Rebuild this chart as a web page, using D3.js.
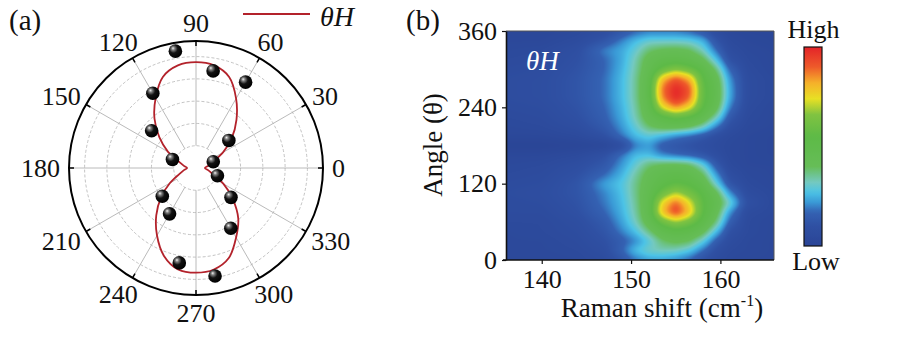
<!DOCTYPE html>
<html><head><meta charset="utf-8">
<script src="https://cdn.jsdelivr.net/npm/d3@7/dist/d3.min.js"></script>
<style>
body{margin:0;background:#fff;}
svg text{font-family:"Liberation Serif","Tinos","Times New Roman","Nimbus Roman","DejaVu Serif",serif !important;fill:#111;}
</style></head><body>
<svg id="fig" width="899" height="340"></svg>
<script>
// ---------- (a) polar plot data ----------
const polarTickAngles = [0, 30, 60, 90, 120, 150, 180, 210, 240, 270, 300, 330];
const ringLevels = [0.2, 0.4, 0.6, 0.8, 1.0];
// measured intensities (normalised)
const pointAngles = [20, 40, 60, 80, 100, 120, 140, 160, 220, 240, 260, 280, 300, 320, 340];
const pointValues = [0.165, 0.385, 0.89, 0.885, 1.065, 0.775, 0.52, 0.225, 0.395, 0.475, 0.865, 0.985, 0.625, 0.41, 0.205];
// fitted curve, sampled every 10 degrees
const fitAngles = [0,10,20,30,40,50,60,70,80,90,100,110,120,130,140,150,160,170,
                   180,190,200,210,220,230,240,250,260,270,280,290,300,310,320,330,340,350];
const fitValues = [0.08,0.11,0.16,0.28,0.42,0.565,0.72,0.87,0.935,0.95,0.935,0.87,0.725,0.58,0.43,0.29,0.16,0.11,
                   0.08,0.11,0.16,0.27,0.41,0.555,0.70,0.84,0.925,0.94,0.925,0.86,0.72,0.59,0.43,0.285,0.16,0.11];

// ---------- (b) Raman map data ----------
const shiftTicks = [140, 150, 160];
const angleTicks = [0, 120, 240, 360];
const mapShifts = [136, 140, 144, 147, 149, 150.5, 152, 153.5, 155, 156.5, 158, 159.5, 161, 163, 166];
const mapAngles = [0, 15, 30, 45, 60, 75, 90, 105, 120, 135, 150, 165, 180, 195, 210, 225, 240, 255, 270, 285, 300, 315, 330, 345, 360];
const mapIntensity = [
  [0.03,0.03,0.04,0.06,0.12,0.18,0.22,0.22,0.20,0.16,0.10,0.06,0.04,0.03,0.03],
  [0.04,0.04,0.05,0.08,0.17,0.27,0.32,0.33,0.32,0.28,0.18,0.09,0.05,0.04,0.03],
  [0.04,0.04,0.06,0.10,0.15,0.20,0.28,0.38,0.42,0.40,0.30,0.15,0.07,0.04,0.03],
  [0.04,0.05,0.07,0.12,0.20,0.27,0.37,0.48,0.52,0.50,0.43,0.27,0.10,0.05,0.03],
  [0.05,0.05,0.08,0.14,0.23,0.32,0.45,0.60,0.68,0.62,0.52,0.38,0.16,0.05,0.03],
  [0.06,0.06,0.10,0.17,0.25,0.34,0.48,0.80,0.95,0.80,0.56,0.44,0.22,0.06,0.04],
  [0.06,0.07,0.11,0.19,0.26,0.35,0.48,0.76,0.90,0.75,0.56,0.47,0.32,0.10,0.04],
  [0.07,0.08,0.12,0.20,0.27,0.36,0.47,0.60,0.70,0.62,0.54,0.43,0.22,0.07,0.04],
  [0.06,0.07,0.12,0.23,0.28,0.36,0.45,0.52,0.56,0.54,0.48,0.30,0.12,0.05,0.03],
  [0.05,0.06,0.10,0.17,0.25,0.34,0.43,0.48,0.50,0.48,0.40,0.22,0.08,0.04,0.03],
  [0.04,0.05,0.08,0.13,0.22,0.30,0.38,0.41,0.42,0.40,0.30,0.14,0.05,0.03,0.03],
  [0.03,0.03,0.05,0.10,0.19,0.26,0.26,0.20,0.17,0.15,0.12,0.08,0.04,0.03,0.02],
  [0.00,0.00,0.01,0.02,0.07,0.19,0.22,0.14,0.12,0.10,0.08,0.06,0.04,0.03,0.02],
  [0.03,0.03,0.05,0.10,0.19,0.26,0.29,0.25,0.20,0.17,0.13,0.08,0.05,0.03,0.02],
  [0.04,0.05,0.08,0.14,0.22,0.30,0.39,0.44,0.45,0.42,0.34,0.20,0.09,0.04,0.03],
  [0.05,0.06,0.10,0.16,0.24,0.33,0.45,0.53,0.58,0.55,0.48,0.34,0.14,0.05,0.03],
  [0.06,0.07,0.11,0.17,0.25,0.34,0.48,0.74,0.86,0.76,0.56,0.44,0.20,0.06,0.03],
  [0.07,0.08,0.12,0.18,0.26,0.35,0.50,0.86,1.00,0.90,0.58,0.47,0.24,0.07,0.04],
  [0.07,0.08,0.12,0.18,0.26,0.35,0.50,0.88,1.00,0.92,0.58,0.47,0.24,0.07,0.04],
  [0.07,0.08,0.12,0.18,0.26,0.35,0.49,0.80,0.92,0.82,0.56,0.45,0.22,0.07,0.04],
  [0.06,0.07,0.11,0.17,0.25,0.34,0.46,0.58,0.65,0.60,0.52,0.38,0.17,0.06,0.03],
  [0.05,0.06,0.10,0.17,0.24,0.33,0.44,0.49,0.50,0.48,0.42,0.27,0.10,0.05,0.03],
  [0.04,0.05,0.09,0.20,0.24,0.30,0.38,0.41,0.42,0.40,0.32,0.18,0.07,0.04,0.03],
  [0.03,0.03,0.06,0.12,0.20,0.26,0.30,0.30,0.30,0.29,0.25,0.12,0.05,0.03,0.02],
  [0.02,0.02,0.04,0.07,0.12,0.16,0.18,0.18,0.18,0.16,0.12,0.06,0.03,0.02,0.02]
];
// colour map stops
const cmapStops  = [0.00, 0.10, 0.17, 0.22, 0.27, 0.32, 0.40, 0.55, 0.66, 0.74, 0.82, 0.90, 1.00];
const cmapColors = ["#2a4596","#2f50a3","#3461b2","#3a9ad6","#4cc3e6","#74c9c0","#66bd57","#5dba47","#80c341","#e8e024","#f5b02a","#ee5a2a","#e42329"];

const svg = d3.select("#fig");
const defs = svg.append("defs");
const SERIF = '"Liberation Serif","Tinos","Times New Roman","Nimbus Roman","DejaVu Serif",serif';

// ================= (a) polar =================
const cx = 196, cy = 168, R = 127;
const rScale = d3.scaleLinear().domain([0, 1.14]).range([0, R]);
const toRad = a => a * Math.PI / 180;
const px = (a, v) => cx + rScale(v) * Math.cos(toRad(a));
const py = (a, v) => cy - rScale(v) * Math.sin(toRad(a));

const gp = svg.append("g");
// dashed rings
gp.selectAll("circle.ring").data(ringLevels).join("circle")
  .attr("cx", cx).attr("cy", cy).attr("r", d => rScale(d))
  .attr("fill", "none").attr("stroke", "#b4b4b4").attr("stroke-width", 0.8)
  .attr("stroke-dasharray", "3,2");
// spokes
gp.selectAll("line.spoke").data(polarTickAngles).join("line")
  .attr("x1", a => px(a, ringLevels[0])).attr("y1", a => py(a, ringLevels[0]))
  .attr("x2", a => px(a, rScale.domain()[1])).attr("y2", a => py(a, rScale.domain()[1]))
  .attr("stroke", "#a8a8a8").attr("stroke-width", 0.8);
// outer circle
gp.append("circle").attr("cx", cx).attr("cy", cy).attr("r", R)
  .attr("fill", "none").attr("stroke", "#000").attr("stroke-width", 2);
// ticks pointing inward
gp.selectAll("line.tick").data(polarTickAngles).join("line")
  .attr("x1", a => cx + R * Math.cos(toRad(a))).attr("y1", a => cy - R * Math.sin(toRad(a)))
  .attr("x2", a => cx + (R - 5) * Math.cos(toRad(a))).attr("y2", a => cy - (R - 5) * Math.sin(toRad(a)))
  .attr("stroke", "#000").attr("stroke-width", 1.5);
// angle labels
gp.selectAll("text.alab").data(polarTickAngles).join("text")
  .attr("font-size", 26).attr("text-anchor", "middle").style("font-family", SERIF)
  .text(d => d)
  .each(function (a) {
    const w = this.getComputedTextLength(), h = 18;
    const c = Math.cos(toRad(a)), s = Math.sin(toRad(a));
    const L = R + 9;
    const x = cx + L * c + c * w / 2;
    const y = cy - L * s - s * h / 2;
    d3.select(this).attr("x", x).attr("y", y + h / 2);
  });

// fitted curve
const radial = d3.lineRadial()
  .angle(d => toRad(90 - d[0]))
  .radius(d => rScale(d[1]))
  .curve(d3.curveCatmullRomClosed.alpha(0.5));
gp.append("path")
  .attr("transform", `translate(${cx},${cy})`)
  .attr("d", radial(fitAngles.map((a, i) => [a, fitValues[i]])))
  .attr("fill", "none").attr("stroke", "#b3222b").attr("stroke-width", 1.8);

// sphere markers
const grad = defs.append("radialGradient").attr("id", "ball")
  .attr("cx", "40%").attr("cy", "38%").attr("r", "62%").attr("fx", "32%").attr("fy", "28%");
grad.append("stop").attr("offset", "0%").attr("stop-color", "#f4f4f4");
grad.append("stop").attr("offset", "20%").attr("stop-color", "#808080");
grad.append("stop").attr("offset", "50%").attr("stop-color", "#121212");
grad.append("stop").attr("offset", "100%").attr("stop-color", "#000");
gp.selectAll("circle.pt").data(pointAngles).join("circle")
  .attr("cx", (a, i) => px(a, pointValues[i])).attr("cy", (a, i) => py(a, pointValues[i]))
  .attr("r", 6.8).attr("fill", "url(#ball)");

// legend
gp.append("line").attr("x1", 243).attr("x2", 310).attr("y1", 14).attr("y2", 14)
  .attr("stroke", "#b3222b").attr("stroke-width", 2);
gp.append("text").attr("x", 320).attr("y", 26).attr("font-size", 28).attr("font-style", "italic")
  .style("font-family", SERIF).text("θH");
svg.append("text").attr("x", 9).attr("y", 30).attr("font-size", 29).style("font-family", SERIF).text("(a)");

// ================= (b) Raman map =================
const x0 = 506, x1 = 774, y0 = 31, y1 = 260;
const x = d3.scaleLinear().domain([136, 166]).range([x0, x1]);
const y = d3.scaleLinear().domain([0, 360]).range([y1, y0]);
const color = d3.scaleLinear().domain(cmapStops).range(cmapColors).interpolate(d3.interpolateRgb).clamp(true);

const W = x1 - x0, H = y1 - y0;
function sample(s, a) {
  let j = d3.bisectRight(mapShifts, s) - 1; j = Math.max(0, Math.min(mapShifts.length - 2, j));
  let i = d3.bisectRight(mapAngles, a) - 1; i = Math.max(0, Math.min(mapAngles.length - 2, i));
  const ts = Math.max(0, Math.min(1, (s - mapShifts[j]) / (mapShifts[j + 1] - mapShifts[j])));
  const ta = Math.max(0, Math.min(1, (a - mapAngles[i]) / (mapAngles[i + 1] - mapAngles[i])));
  const v00 = mapIntensity[i][j], v01 = mapIntensity[i][j + 1];
  const v10 = mapIntensity[i + 1][j], v11 = mapIntensity[i + 1][j + 1];
  return (v00 * (1 - ts) + v01 * ts) * (1 - ta) + (v10 * (1 - ts) + v11 * ts) * ta;
}
let field = new Float32Array(W * H);
for (let r = 0; r < H; r++) for (let c = 0; c < W; c++)
  field[r * W + c] = sample(x.invert(x0 + c + 0.5), y.invert(y0 + r + 0.5));
// soften the interpolated field (separable box blur, clamped edges)
function boxBlur(src, rad) {
  const tmp = new Float32Array(W * H), out = new Float32Array(W * H);
  for (let r = 0; r < H; r++) for (let c = 0; c < W; c++) {
    let s = 0; for (let k = -rad; k <= rad; k++) s += src[r * W + Math.max(0, Math.min(W - 1, c + k))];
    tmp[r * W + c] = s / (2 * rad + 1);
  }
  for (let r = 0; r < H; r++) for (let c = 0; c < W; c++) {
    let s = 0; for (let k = -rad; k <= rad; k++) s += tmp[Math.max(0, Math.min(H - 1, r + k)) * W + c];
    out[r * W + c] = s / (2 * rad + 1);
  }
  return out;
}
field = boxBlur(boxBlur(field, 3), 3);
const canvas = document.createElement("canvas");
canvas.width = W; canvas.height = H;
const ctx = canvas.getContext("2d");
const img = ctx.createImageData(W, H);
for (let k = 0; k < W * H; k++) {
  const col = d3.rgb(color(field[k]));
  img.data[4 * k] = col.r; img.data[4 * k + 1] = col.g; img.data[4 * k + 2] = col.b; img.data[4 * k + 3] = 255;
}
ctx.putImageData(img, 0, 0);
const gm = svg.append("g");
gm.append("image").attr("x", x0).attr("y", y0).attr("width", W).attr("height", H)
  .attr("preserveAspectRatio", "none").attr("href", canvas.toDataURL());

// frame (top/right)
gm.append("path").attr("d", `M${x0},${y0}H${x1}V${y1}`).attr("fill", "none")
  .attr("stroke", "#555").attr("stroke-width", 1);
// axes
const ax = gm.append("g").attr("transform", `translate(0,${y1})`)
  .call(d3.axisBottom(x).tickValues(shiftTicks).tickSize(4).tickSizeOuter(0).tickPadding(6));
const ay = gm.append("g").attr("transform", `translate(${x0},0)`)
  .call(d3.axisLeft(y).tickValues(angleTicks).tickSize(4).tickSizeOuter(0).tickPadding(5));
[ax, ay].forEach(g => {
  g.attr("font-family", null);
  g.select(".domain").attr("stroke", "#111").attr("stroke-width", 1.6);
  g.selectAll(".tick line").attr("stroke", "#111").attr("stroke-width", 1.2);
  g.selectAll(".tick text").attr("font-size", 26).style("font-family", SERIF).attr("fill", "#111");
});
ax.select(".domain").attr("d", `M${x0 - 3},0H${x1}`);

// titles
const xt = svg.append("text").attr("x", 662).attr("y", 317).attr("font-size", 27)
  .attr("text-anchor", "middle").style("font-family", SERIF);
xt.append("tspan").text("Raman shift (cm");
xt.append("tspan").attr("font-size", 16).attr("dy", -11).text("-1");
xt.append("tspan").attr("dy", 11).text(")");
svg.append("text").attr("transform", "translate(442,145) rotate(-90)").style("font-family", SERIF)
  .attr("font-size", 27).attr("text-anchor", "middle").text("Angle (θ)");
svg.append("text").attr("x", 526).attr("y", 70).attr("font-size", 27).attr("font-style", "italic")
  .style("font-family", SERIF).style("fill", "#fff").text("θH");
svg.append("text").attr("x", 406).attr("y", 30).attr("font-size", 29).style("font-family", SERIF).text("(b)");

// colour bar
const cb = { x: 804, y: 47, w: 18, h: 199 };
const lg = defs.append("linearGradient").attr("id", "cbar").attr("x1", 0).attr("y1", 1).attr("x2", 0).attr("y2", 0);
d3.range(0, 1.0001, 0.02).forEach(t => lg.append("stop").attr("offset", t).attr("stop-color", color(t)));
svg.append("rect").attr("x", cb.x).attr("y", cb.y).attr("width", cb.w).attr("height", cb.h)
  .attr("fill", "url(#cbar)").attr("stroke", "#111").attr("stroke-width", 1.2);
svg.append("text").attr("x", 813.5).attr("y", 38).attr("font-size", 26).attr("text-anchor", "middle")
  .style("font-family", SERIF).text("High");
svg.append("text").attr("x", 816).attr("y", 270).attr("font-size", 26).attr("text-anchor", "middle")
  .style("font-family", SERIF).text("Low");
</script>
</body></html>
